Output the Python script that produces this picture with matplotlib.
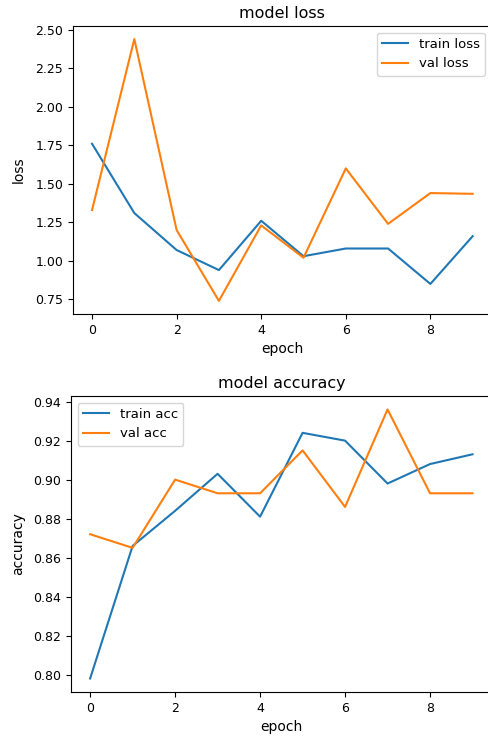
import matplotlib
matplotlib.use("Agg")
import matplotlib.pyplot as plt

epochs = list(range(10))
train_loss = [1.76, 1.31, 1.07, 0.94, 1.26, 1.03, 1.08, 1.08, 0.85, 1.16]
val_loss = [1.33, 2.44, 1.20, 0.74, 1.23, 1.02, 1.60, 1.24, 1.44, 1.435]
train_acc = [0.798, 0.866, 0.884, 0.903, 0.881, 0.924, 0.920, 0.898, 0.908, 0.913]
val_acc = [0.872, 0.865, 0.900, 0.893, 0.893, 0.915, 0.886, 0.936, 0.893, 0.893]

plt.rcParams['font.family'] = ['DejaVu Sans']
plt.rcParams['font.size'] = 9

fig = plt.figure(figsize=(4.88, 7.37), dpi=100)

ax1 = fig.add_axes([0.1496, 0.574, 0.858, 0.3908])
ax1.plot(epochs, train_loss, color='#1f77b4', lw=1.5, label='train loss')
ax1.plot(epochs, val_loss, color='#ff7f0e', lw=1.5, label='val loss')
ax1.set_title('model loss', fontsize=11.5)
ax1.set_xlabel('epoch', fontsize=10)
ax1.set_ylabel('loss', fontsize=10, labelpad=7)
ax1.legend(loc='upper right', fontsize=9.5)

ax2 = fig.add_axes([0.1455, 0.0611, 0.862, 0.4016])
ax2.plot(epochs, train_acc, color='#1f77b4', lw=1.5, label='train acc')
ax2.plot(epochs, val_acc, color='#ff7f0e', lw=1.5, label='val acc')
ax2.set_title('model accuracy', fontsize=11.5)
ax2.set_xlabel('epoch', fontsize=10)
ax2.set_ylabel('accuracy', fontsize=10, labelpad=6)
ax2.legend(loc='upper left', fontsize=9.5)

fig.savefig('out.png', dpi=100)
